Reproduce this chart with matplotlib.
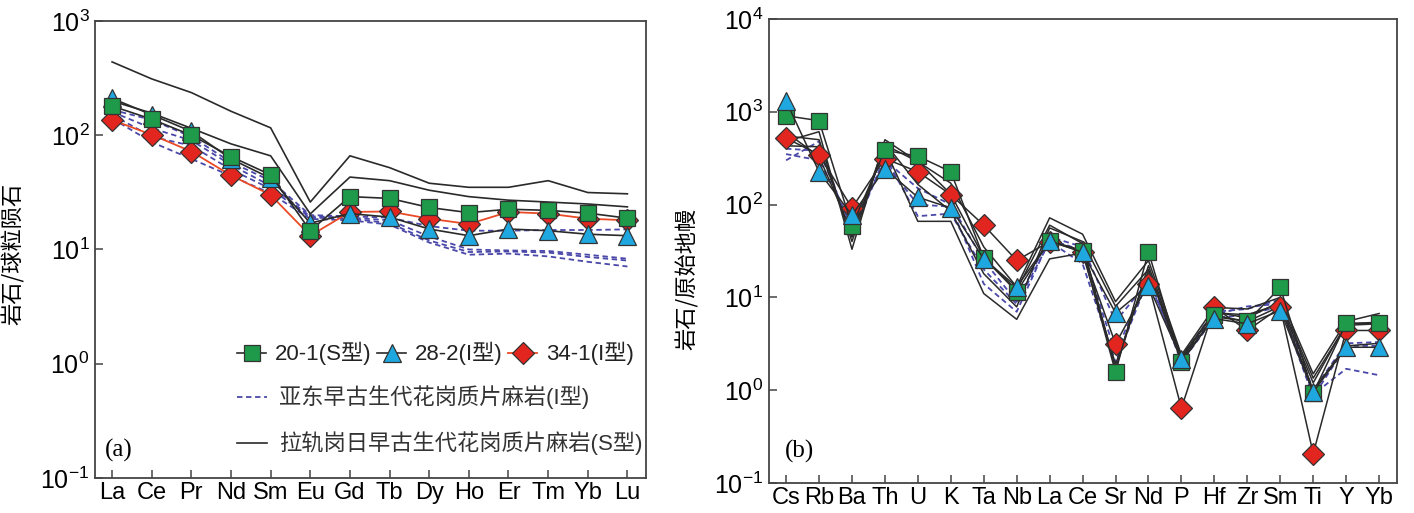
import matplotlib
matplotlib.use("Agg")
import matplotlib.pyplot as plt
import numpy as np

plt.rcParams['font.family'] = ['Liberation Sans', 'Noto Sans CJK SC', 'DejaVu Sans']
plt.rcParams['axes.unicode_minus'] = True

# ---------------- data: (a) chondrite-normalised REE ----------------
ree = ['La', 'Ce', 'Pr', 'Nd', 'Sm', 'Eu', 'Gd', 'Tb', 'Dy', 'Ho', 'Er', 'Tm', 'Yb', 'Lu']
ree_20_1 = [180, 138, 100, 65, 45, 14.6, 29, 28, 23.3, 21, 22.5, 22, 20.8, 18.8]
ree_28_2 = [210, 151, 108, 62, 42, 17, 20.6, 19.2, 15.1, 13.2, 15.1, 14.6, 13.6, 13.2]
ree_34_1 = [136, 101, 72, 44.5, 30, 13.2, 21.3, 21.5, 18.6, 16.7, 21.3, 20.6, 18.6, 18]
ree_yadong_1 = [167, 136, 97, 58, 40, 20, 19.5, 19, 16, 14.6, 14.6, 14.8, 14.8, 15]
ree_yadong_2 = [160, 115, 90, 55, 36, 19.5, 19, 18, 13, 10, 9.8, 9.7, 9.0, 8.3]
ree_yadong_3 = [151, 97, 81, 50, 34, 19, 18.6, 17, 12, 9.5, 9.6, 9.4, 8.6, 8.0]
ree_yadong_4 = [140, 87, 62, 44, 31, 18.5, 18, 16.5, 11.5, 9.0, 9.2, 8.7, 7.8, 7.1]
ree_lagui_1 = [438, 311, 236, 162, 116, 26, 66, 52, 38, 35, 35, 40, 31.5, 30.7]
ree_lagui_2 = [199, 156, 115, 84, 66, 20.5, 43, 40, 33, 29, 27, 26, 25, 23.6]

# ---------------- data: (b) primitive-mantle-normalised spider ----------------
spider = ['Cs', 'Rb', 'Ba', 'Th', 'U', 'K', 'Ta', 'Nb', 'La', 'Ce', 'Sr', 'Nd', 'P', 'Hf', 'Zr', 'Sm', 'Ti', 'Y', 'Yb']
sp_20_1 = [906, 802, 59, 385, 332, 226, 26.7, 11.5, 40.7, 32, 1.56, 31, 2.0, 6.4, 5.5, 12.8, 0.93, 5.25, 5.25]
sp_28_2 = [1310, 226, 77, 242, 120, 92, 26.0, 13, 40.7, 30.6, 6.8, 13.4, 2.18, 5.9, 5.2, 7.2, 0.95, 2.9, 2.9]
sp_34_1 = [520, 346, 92, 313, 226, 128, 60, 25, 40, 31, 3.16, 14, 0.64, 7.8, 4.4, 7.8, 0.207, 4.4, 4.4]
sp_lagui_1 = [480, 610, 33, 500, 290, 170, 35, 13, 72, 48, 9.0, 25, 2.4, 7.8, 7.5, 10, 1.5, 5.5, 6.7]
sp_lagui_2 = [430, 420, 45, 460, 165, 85, 18, 7.9, 56, 40, 8.0, 20, 2.2, 6.8, 6.5, 8.5, 1.2, 5.2, 5.4]
sp_lagui_3 = [600, 330, 50, 400, 66, 66, 11, 5.8, 26, 30, 1.9, 19.5, 2.0, 6.2, 5.5, 8.0, 1.0, 3.0, 3.2]
sp_lagui_4 = [550, 500, 40, 440, 290, 130, 27, 12, 60, 38, 1.7, 22, 2.3, 7.0, 6.0, 9.0, 1.35, 5.0, 5.2]
sp_yadong_1 = [300, 480, 45, 330, 75, 80, 20, 8.5, 40, 23, 2.0, 16, 2.1, 6.5, 8.0, 8.5, 0.9, 1.7, 1.45]
sp_yadong_2 = [400, 380, 55, 300, 150, 100, 25, 9, 45, 35, 5.5, 15, 2.3, 7.0, 7.5, 9.5, 1.0, 3.2, 3.3]
sp_yadong_3 = [350, 300, 60, 280, 100, 95, 14, 7, 42, 32, 2.5, 17, 2.0, 6.0, 6.5, 8.0, 0.85, 3.0, 3.0]

labels_samples = ['20-1(S型)', '28-2(I型)', '34-1(I型)']
label_yadong = '亚东早古生代花岗质片麻岩(I型)'
label_lagui = '拉轨岗日早古生代花岗质片麻岩(S型)'

# ---------------- style ----------------
GREEN = '#1e9a4a'
CYAN = '#1fa8e0'
RED = '#e3251f'
REDLINE = '#ea4a25'
EDGE = '#333333'
DARK = '#2a2a2a'
NAVY = '#4a48a8'
SPINE = '#444444'

fig = plt.figure(figsize=(14.14, 5.13), dpi=100)
fig.patch.set_facecolor('white')
axA = fig.add_axes([0.0672, 0.0682, 0.3897, 0.891])
axB = fig.add_axes([0.5438, 0.0585, 0.4441, 0.9045])


def style_axes(ax, names, ylo, yhi, xlim):
    ax.set_yscale('log')
    ax.set_ylim(ylo, yhi)
    ax.set_xlim(*xlim)
    ax.set_xticks(np.arange(len(names)))
    ax.set_xticklabels(names, fontsize=17)
    ax.yaxis.set_major_locator(matplotlib.ticker.LogLocator(base=10, numticks=10))
    ax.yaxis.set_minor_locator(matplotlib.ticker.NullLocator())
    ax.tick_params(axis='both', which='major', direction='in', length=6, width=1.1,
                   color=SPINE, top=False, right=False)
    ax.tick_params(axis='y', labelsize=18, pad=4)
    ax.tick_params(axis='x', pad=3)
    for s in ax.spines.values():
        s.set_color(SPINE)
        s.set_linewidth(1.3)


# ---------------- panel (a) ----------------
xa = np.arange(len(ree))
dl = []
for d in [ree_yadong_1, ree_yadong_2, ree_yadong_3, ree_yadong_4]:
    ln, = axA.plot(xa, d, color=NAVY, lw=1.3, ls=(0, (3, 2)), zorder=2)
    dl.append(ln)
sl = []
for d in [ree_lagui_1, ree_lagui_2]:
    ln, = axA.plot(xa, d, color=DARK, lw=1.2, zorder=2)
    sl.append(ln)
lA34, = axA.plot(xa, ree_34_1, color=REDLINE, lw=1.3, marker='D', ms=11, mfc=RED,
                 mec=EDGE, mew=0.9, zorder=3)
lA28, = axA.plot(xa, ree_28_2, color=DARK, lw=1.2, marker='^', ms=13, mfc=CYAN,
                 mec=EDGE, mew=0.9, zorder=4)
lA20, = axA.plot(xa, ree_20_1, color=DARK, lw=1.2, marker='s', ms=12, mfc=GREEN,
                 mec=EDGE, mew=0.9, zorder=5)
style_axes(axA, ree, 0.1, 1000, (-0.43, 13.47))
axA.set_ylabel('岩石/球粒陨石', fontsize=16, family=['Noto Sans CJK SC'])
axA.yaxis.set_label_coords(-0.128, 0.49)
axA.text(0.018, 0.061, '(a)', transform=axA.transAxes, fontsize=18,
         family='Liberation Serif', va='center', ha='left')

leg1 = axA.legend(handles=[lA20, lA28, lA34], labels=labels_samples, ncol=3,
                  loc='center left', bbox_to_anchor=(0.258, 0.272), frameon=False,
                  fontsize=16, handlelength=1.3, handletextpad=0.4, columnspacing=0.25,
                  borderpad=0, borderaxespad=0, numpoints=1)
axA.add_artist(leg1)
leg2 = axA.legend(handles=[dl[0], sl[0]], labels=[label_yadong, label_lagui],
                  loc='center left', bbox_to_anchor=(0.258, 0.126), frameon=False,
                  fontsize=16, handlelength=1.35, handletextpad=0.55, labelspacing=1.0,
                  borderpad=0, borderaxespad=0)
for t in leg2.get_texts():
    t.set_color('#333333')
for t in leg1.get_texts():
    t.set_color('#222222')

# ---------------- panel (b) ----------------
xb = np.arange(len(spider))
for d in [sp_yadong_1, sp_yadong_2, sp_yadong_3]:
    axB.plot(xb, d, color=NAVY, lw=1.3, ls=(0, (3, 2)), zorder=2)
for d in [sp_lagui_1, sp_lagui_2, sp_lagui_3, sp_lagui_4]:
    axB.plot(xb, d, color=DARK, lw=1.1, zorder=2)
axB.plot(xb, sp_34_1, color=DARK, lw=1.1, marker='D', ms=11, mfc=RED,
         mec=EDGE, mew=0.9, zorder=3)
axB.plot(xb, sp_20_1, color=DARK, lw=1.1, marker='s', ms=12, mfc=GREEN,
         mec=EDGE, mew=0.9, zorder=4)
axB.plot(xb, sp_28_2, color=DARK, lw=1.1, marker='^', ms=13, mfc=CYAN,
         mec=EDGE, mew=0.9, zorder=5)
style_axes(axB, spider, 0.1, 10000, (-0.52, 18.54))
axB.set_ylabel('岩石/原始地幔', fontsize=16, family=['Noto Sans CJK SC'])
axB.yaxis.set_label_coords(-0.111, 0.44)
axB.text(0.025, 0.067, '(b)', transform=axB.transAxes, fontsize=18,
         family='Liberation Serif', va='center', ha='left')

fig.savefig('out.png', dpi=100, facecolor='white')
